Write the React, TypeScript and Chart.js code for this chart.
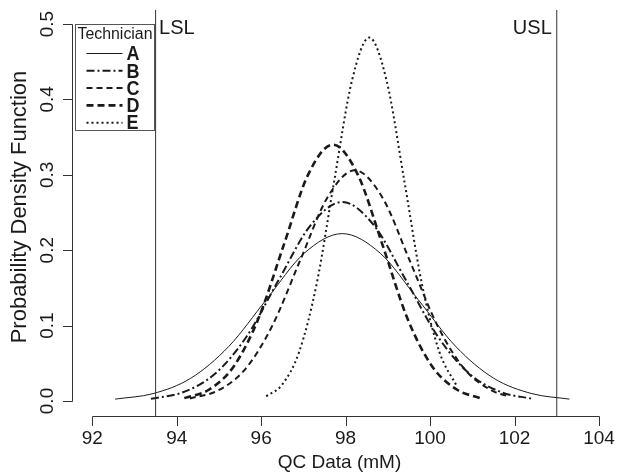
import React, { useEffect, useRef } from 'react';
import { Chart, registerables } from 'chart.js';

Chart.register(...registerables);

// ---------- data ----------
const technicians = ['A', 'B', 'C', 'D', 'E'];

const techA_x = [92.54, 93.44, 94.33, 95.23, 96.13, 97.02, 97.92, 98.82, 99.71, 100.61, 101.51, 102.41, 103.3];
const techA_y = [0.0025, 0.0098, 0.0301, 0.0722, 0.135, 0.196, 0.222, 0.196, 0.135, 0.0722, 0.0301, 0.0098, 0.0025];

const techB_x = [93.39, 94.15, 94.9, 95.66, 96.41, 97.17, 97.92, 98.67, 99.43, 100.18, 100.94, 101.69, 102.4];
const techB_y = [0.0029, 0.0116, 0.0358, 0.0858, 0.16, 0.233, 0.264, 0.233, 0.16, 0.0858, 0.0358, 0.0116, 0.0032];

const techC_x = [94.31, 94.96, 95.61, 96.26, 96.92, 97.57, 98.22, 98.87, 99.52, 100.18, 100.83, 101.48, 101.85];
const techC_y = [0.0034, 0.0134, 0.0414, 0.0994, 0.186, 0.27, 0.306, 0.27, 0.186, 0.0994, 0.0414, 0.0134, 0.0063];

const techD_x = [94.18, 94.76, 95.35, 95.94, 96.53, 97.11, 97.7, 98.29, 98.88, 99.46, 100.05, 100.64, 101.18];
const techD_y = [0.0038, 0.0149, 0.0459, 0.11, 0.206, 0.3, 0.34, 0.3, 0.206, 0.11, 0.0459, 0.0149, 0.004];

const techE_x = [96.12, 96.49, 96.9, 97.32, 97.73, 98.15, 98.56, 98.97, 99.39, 99.8, 100.22, 100.64];
const techE_y = [0.0062, 0.0212, 0.0652, 0.157, 0.292, 0.425, 0.482, 0.425, 0.292, 0.157, 0.0652, 0.019];

const seriesX = [techA_x, techB_x, techC_x, techD_x, techE_x];
const seriesY = [techA_y, techB_y, techC_y, techD_y, techE_y];

const LSL = 93.5;
const USL = 103;
const specLabels = ['LSL', 'USL'];

const xTicks = [92, 94, 96, 98, 100, 102, 104];
const xTickLabels = ['92', '94', '96', '98', '100', '102', '104'];
const yTicks = [0, 0.1, 0.2, 0.3, 0.4, 0.5];
const yTickLabels = ['0.0', '0.1', '0.2', '0.3', '0.4', '0.5'];

const xTitle = 'QC Data (mM)';
const yTitle = 'Probability Density Function';
const legendTitle = 'Technician';

const X_MIN = 91.52;
const X_MAX = 104.19;
const Y_MIN = -0.0199;
const Y_MAX = 0.5186;

// ---------- styles ----------
const INK = '#1a1a1a';
const AXIS = '#333333';
const FONT = '"Liberation Sans", Arial, Helvetica, sans-serif';
const lineWidths = [1, 2, 2, 2.6, 2];
const lineDashes: number[][] = [[], [8, 3, 2, 3], [6, 4], [7, 4], [2, 3]];

const rAxesPlugin = {
  id: 'rAxes',
  afterDraw(chart: any) {
    const { ctx, chartArea } = chart;
    const xs = chart.scales.x;
    const ys = chart.scales.y;
    ctx.save();
    ctx.strokeStyle = AXIS;
    ctx.lineWidth = 1;
    ctx.setLineDash([]);

    // x axis
    const axY = Math.round(chartArea.bottom) + 0.5;
    const xa = Math.round(xs.getPixelForValue(xTicks[0])) + 0.5;
    const xb = Math.round(xs.getPixelForValue(xTicks[xTicks.length - 1])) + 0.5;
    ctx.beginPath();
    ctx.moveTo(xa, axY);
    ctx.lineTo(xb, axY);
    xTicks.forEach((t) => {
      const px = Math.round(xs.getPixelForValue(t)) + 0.5;
      ctx.moveTo(px, axY);
      ctx.lineTo(px, axY + 9.5);
    });
    ctx.stroke();

    // y axis
    const axX = Math.round(chartArea.left) + 0.5;
    const ya = Math.round(ys.getPixelForValue(yTicks[0])) + 0.5;
    const yb = Math.round(ys.getPixelForValue(yTicks[yTicks.length - 1])) + 0.5;
    ctx.beginPath();
    ctx.moveTo(axX, ya);
    ctx.lineTo(axX, yb);
    yTicks.forEach((t) => {
      const py = Math.round(ys.getPixelForValue(t)) + 0.5;
      ctx.moveTo(axX, py);
      ctx.lineTo(axX - 9.5, py);
    });
    ctx.stroke();

    ctx.fillStyle = INK;
    // x tick labels
    ctx.font = `19px ${FONT}`;
    ctx.textAlign = 'center';
    ctx.textBaseline = 'middle';
    xTicks.forEach((t, i) => {
      ctx.fillText(xTickLabels[i], xs.getPixelForValue(t), axY + 22);
    });
    // y tick labels (rotated)
    yTicks.forEach((t, i) => {
      ctx.save();
      ctx.translate(axX - 25, ys.getPixelForValue(t));
      ctx.rotate(-Math.PI / 2);
      ctx.fillText(yTickLabels[i], 0, 0);
      ctx.restore();
    });
    // titles
    ctx.font = `19px ${FONT}`;
    ctx.fillText(xTitle, (chartArea.left + chartArea.right) / 2, axY + 46);
    ctx.save();
    ctx.font = `22px ${FONT}`;
    ctx.translate(20, (chartArea.top + chartArea.bottom) / 2 - 6);
    ctx.rotate(-Math.PI / 2);
    ctx.fillText(yTitle, 0, 0);
    ctx.restore();

    // spec labels
    ctx.font = `20px ${FONT}`;
    ctx.textBaseline = 'middle';
    ctx.textAlign = 'left';
    ctx.fillText(specLabels[0], xs.getPixelForValue(LSL) + 3.5, chartArea.top + 18);
    ctx.textAlign = 'right';
    ctx.fillText(specLabels[1], xs.getPixelForValue(USL) - 5, chartArea.top + 18);

    // legend
    const lx = chartArea.left + 2.5;
    const ly = Math.round(ys.getPixelForValue(0.5)) + 0.5;
    const lw = 79;
    const lh = 106;
    ctx.strokeStyle = '#555';
    ctx.lineWidth = 1;
    ctx.strokeRect(Math.round(lx) + 0.5, ly, lw, lh);
    ctx.font = `16px ${FONT}`;
    ctx.textAlign = 'center';
    ctx.textBaseline = 'middle';
    ctx.fillText(legendTitle, lx + lw / 2 + 1, ly + 10, lw - 4);
    technicians.forEach((name, i) => {
      const cy = ly + 29 + i * 17.3;
      ctx.save();
      ctx.strokeStyle = INK;
      ctx.lineWidth = lineWidths[i];
      ctx.setLineDash(lineDashes[i]);
      ctx.beginPath();
      ctx.moveTo(lx + 12, cy);
      ctx.lineTo(lx + 48, cy);
      ctx.stroke();
      ctx.restore();
      ctx.save();
      ctx.font = `bold 18px ${FONT}`;
      ctx.textAlign = 'left';
      ctx.translate(lx + 52, cy + 1);
      ctx.scale(1, 1.15);
      ctx.fillText(name, 0, 0);
      ctx.restore();
    });
    ctx.restore();
  },
};

export default function App() {
  const canvasRef = useRef<HTMLCanvasElement | null>(null);

  useEffect(() => {
    document.body.style.margin = '0';
    const canvas = canvasRef.current;
    if (!canvas) return;

    const curveSets = technicians.map((name, i) => ({
      type: 'line' as const,
      label: name,
      data: seriesX[i].map((x, j) => ({ x, y: seriesY[i][j] })),
      borderColor: INK,
      borderWidth: lineWidths[i],
      borderDash: lineDashes[i],
      pointRadius: 0,
      fill: false,
      cubicInterpolationMode: 'monotone' as const,
    }));
    const specSets = [LSL, USL].map((v, i) => ({
      type: 'line' as const,
      label: specLabels[i],
      data: [
        { x: v, y: Y_MIN },
        { x: v, y: Y_MAX },
      ],
      borderColor: AXIS,
      borderWidth: 1,
      pointRadius: 0,
      fill: false,
    }));

    const chart = new Chart(canvas, {
      type: 'line',
      data: { datasets: [...specSets, ...curveSets] as any },
      options: {
        animation: false,
        responsive: false,
        maintainAspectRatio: false,
        layout: { padding: { left: 72, top: 10, right: 10, bottom: 56 } },
        scales: {
          x: { type: 'linear', min: X_MIN, max: X_MAX, display: false },
          y: { type: 'linear', min: Y_MIN, max: Y_MAX, display: false },
        },
        plugins: {
          legend: { display: false },
          tooltip: { enabled: false },
        },
      },
      plugins: [rAxesPlugin],
    });
    return () => chart.destroy();
  }, []);

  return (
    <div style={{ position: 'absolute', left: 0, top: 0, width: 617, height: 472, background: '#fff' }}>
      <canvas ref={canvasRef} width={617} height={472} style={{ width: 617, height: 472 }} />
    </div>
  );
}
